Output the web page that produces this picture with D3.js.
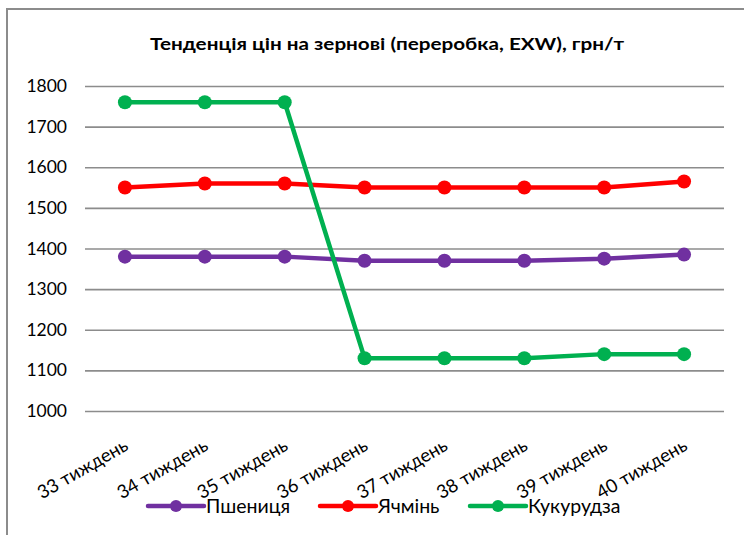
<!DOCTYPE html>
<html><head><meta charset="utf-8">
<script src="https://cdn.jsdelivr.net/npm/d3@7"></script>
<style>html,body{margin:0;padding:0;background:#fff;}svg{display:block;}</style>
</head><body>
<script>
const categories = ["33 тиждень","34 тиждень","35 тиждень","36 тиждень","37 тиждень","38 тиждень","39 тиждень","40 тиждень"];
const wheat = [1380,1380,1380,1370,1370,1370,1375,1385];
const barley = [1550,1560,1560,1550,1550,1550,1550,1565];
const corn = [1760,1760,1760,1130,1130,1130,1140,1140];
const seriesNames = ["Пшениця","Ячмінь","Кукурудза"];
const seriesColors = ["#7030A0","#FF0000","#00B050"];
const yTicks = [1000,1100,1200,1300,1400,1500,1600,1700,1800];
const title = "Тенденція цін на зернові (переробка, EXW), грн/т";

const series = [wheat, barley, corn].map((v,i)=>({name:seriesNames[i], color:seriesColors[i], values:v}));

const W=744,H=535;
const svg=d3.select("body").append("svg").attr("width",W).attr("height",H);
const font="Lato, 'Open Sans', sans-serif";

// border
svg.append("path").attr("d","M7,535 V9 H744").attr("fill","none").attr("stroke","#8c8c8c").attr("stroke-width",2);

svg.append("text").attr("x",150).attr("y",50)
  .attr("font-family",font).attr("font-weight","bold").attr("font-size",17.5).attr("fill","#000")
  .attr("textLength",474).attr("lengthAdjust","spacingAndGlyphs").text(title);

const x=d3.scalePoint().domain(categories).range([85,724]).padding(0.5);
const y=d3.scaleLinear().domain([1000,1800]).range([411,86]);

const yAxis=svg.append("g").attr("transform","translate(85,0)")
  .call(d3.axisLeft(y).tickValues(yTicks).tickSize(-639).tickFormat(d3.format("d")).tickPadding(18));
yAxis.select(".domain").remove();
yAxis.selectAll(".tick line").attr("stroke","#8c8c8c").attr("stroke-width",1.6);
yAxis.selectAll(".tick text").attr("font-family",font).attr("font-size",17.5).attr("fill","#000");

const xAxis=svg.append("g").attr("transform","translate(0,411)")
  .call(d3.axisBottom(x).tickSize(0).tickPadding(0));
xAxis.select(".domain").remove();
xAxis.selectAll(".tick text").attr("font-family",font).attr("font-size",18.5).attr("fill","#000")
  .attr("text-anchor","end").attr("dy",0).attr("y",0)
  .attr("transform","translate(4,38) rotate(-30)");

const line=d3.line().x((d,i)=>x(categories[i])).y(d=>y(d));
series.forEach(s=>{
  const g=svg.append("g");
  g.append("path").attr("d",line(s.values)).attr("fill","none").attr("stroke",s.color).attr("stroke-width",4.5).attr("stroke-linejoin","round");
  g.selectAll("circle").data(s.values).join("circle")
    .attr("cx",(d,i)=>x(categories[i])).attr("cy",d=>y(d)).attr("r",7).attr("fill",s.color);
});

// legend
const legendX=[148,320,470];
const leg=svg.append("g").attr("transform","translate(0,506)");
series.forEach((s,i)=>{
  const g=leg.append("g").attr("transform",`translate(${legendX[i]},0)`);
  g.append("line").attr("x1",0).attr("x2",56).attr("stroke",s.color).attr("stroke-width",4.5).attr("stroke-linecap","round");
  g.append("circle").attr("cx",28).attr("r",6).attr("fill",s.color);
  g.append("text").attr("x",58).attr("y",6.5).attr("font-family",font).attr("font-size",19.5).attr("fill","#000").text(s.name);
});
</script>
</body></html>
